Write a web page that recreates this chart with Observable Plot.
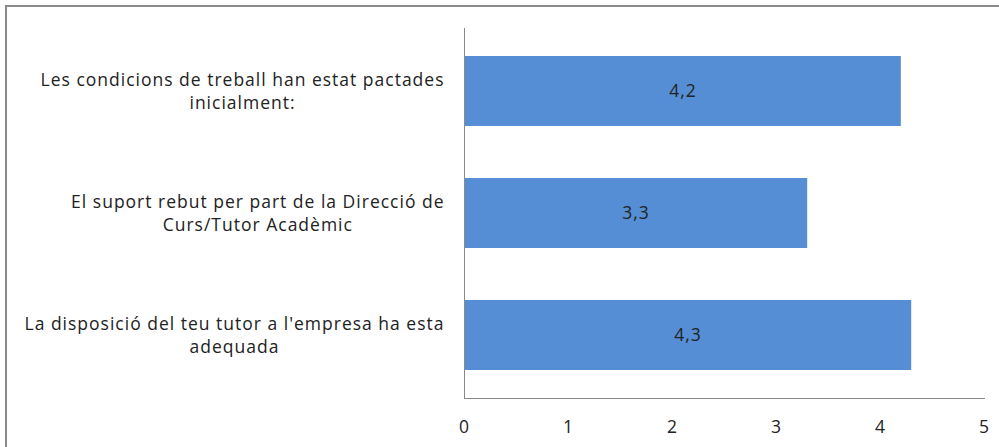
<!DOCTYPE html>
<html>
<head>
<meta charset="utf-8">
<script src="https://cdn.jsdelivr.net/npm/d3@7"></script>
<script src="https://cdn.jsdelivr.net/npm/@observablehq/plot@0.6"></script>
<style>
  html, body { margin: 0; padding: 0; background: #fff; }
  #wrap { position: relative; width: 999px; height: 447px; overflow: hidden; }
  #frame { position: absolute; left: 5px; top: 5px; width: 1100px; height: 600px;
           border-top: 2px solid #8a8a8a; border-left: 2px solid #8a8a8a; pointer-events: none; }
  svg text { letter-spacing: 1px; }
</style>
</head>
<body>
<div id="wrap"><div id="frame"></div></div>
<script>
const categories = [
  "Les condicions de treball han estat pactades inicialment:",
  "El suport rebut per part de la Direcció de Curs/Tutor Acadèmic",
  "La disposició del teu tutor a l'empresa ha esta adequada"
];
const tickLabels = [
  "Les condicions de treball han estat pactades\ninicialment:",
  "El suport rebut per part de la Direcció de\nCurs/Tutor Acadèmic",
  "La disposició del teu tutor a l'empresa ha esta\nadequada"
];
const values = [4.2, 3.3, 4.3];
const xTicks = [0, 1, 2, 3, 4, 5];

const data = categories.map((c, i) => ({category: c, value: values[i]}));
const labelOf = new Map(categories.map((c, i) => [c, tickLabels[i]]));
const fmt = v => String(v).replace(".", ",");

const FS = 17.5;
const FONT = "Open Sans, sans-serif";

// measure the widest line of each label (same font + letter-spacing as rendered)
const ns = "http://www.w3.org/2000/svg";
const msvg = document.createElementNS(ns, "svg");
msvg.setAttribute("style", "position:absolute;left:-2000px;top:0");
document.body.appendChild(msvg);
function lineWidth(s) {
  const t = document.createElementNS(ns, "text");
  t.setAttribute("style", `font-family:${FONT};font-size:${FS}px;letter-spacing:1px`);
  t.textContent = s;
  msvg.appendChild(t);
  const w = t.getComputedTextLength();
  msvg.removeChild(t);
  return w;
}
const blockWidth = tickLabels.map(l => d3.max(l.split("\n"), lineWidth));
document.body.removeChild(msvg);

const PAD = 20;
const chart = Plot.plot({
  width: 999,
  height: 447,
  marginLeft: 464,
  marginRight: 15,
  marginTop: 28,
  marginBottom: 49,
  style: {fontFamily: FONT, fontSize: FS + "px", color: "#222", background: "transparent"},
  x: {domain: [0, 5], label: null},
  y: {domain: categories, paddingInner: 0.43, paddingOuter: 0.22, label: null},
  marks: [
    Plot.barX(data, {x: "value", y: "category", fill: "#558ED5"}),
    Plot.frame({anchor: "left", stroke: "#8a8a8a"}),
    Plot.frame({anchor: "bottom", stroke: "#8a8a8a"}),
    Plot.text(data, {x: d => d.value / 2, y: "category", text: d => fmt(d.value), fill: "#222", fontSize: FS}),
    Plot.axisX({ticks: xTicks, tickSize: 0, tickPadding: 22, tickFormat: d => String(d), fontSize: FS, fill: "#222", label: null}),
    ...categories.map((c, i) => Plot.axisY({
      ticks: [c], tickSize: 0, tickPadding: 0, tickFormat: d => labelOf.get(d),
      lineHeight: 1.31, fontSize: FS, fill: "#222", textAnchor: "middle",
      dx: -(PAD + blockWidth[i] / 2), dy: -1.5, label: null
    }))
  ]
});
document.getElementById("wrap").insertBefore(chart, document.getElementById("frame"));
</script>
</body>
</html>
